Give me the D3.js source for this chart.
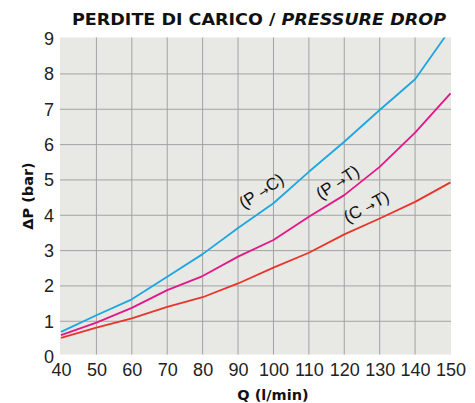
<!DOCTYPE html>
<html>
<head>
<meta charset="utf-8">
<script src="https://cdn.jsdelivr.net/npm/d3@7"></script>
<style>
  body { margin: 0; background: #fff; }
  svg { display: block; }
</style>
</head>
<body>
<div id="chart"></div>
<script>
// Flow values (l/min)
const flow = [40, 50, 60, 70, 80, 90, 100, 110, 120, 130, 140, 150];

// Pressure drop (bar) per path
const pToC = [0.70, 1.17, 1.62, 2.26, 2.90, 3.64, 4.34, 5.23, 6.08, 6.98, 7.85, 9.27];
const pToT = [0.61, 0.96, 1.38, 1.88, 2.28, 2.83, 3.30, 3.96, 4.57, 5.37, 6.34, 7.45];
const cToT = [0.53, 0.82, 1.08, 1.41, 1.68, 2.07, 2.52, 2.94, 3.46, 3.91, 4.38, 4.93];

const yTicks = [0, 1, 2, 3, 4, 5, 6, 7, 8, 9];
const xTicks = flow;

const seriesFrom = ["P", "P", "C"];
const seriesTo = ["C", "T", "T"];
const seriesColors = ["#1ca6e2", "#e3168a", "#e8352b"];

const width = 475;
const height = 403;

const x = d3.scaleLinear().domain([40, 150]).range([61, 450.5]);
const y = d3.scaleLinear().domain([0, 9]).range([356.6, 38.6]);

const plotTop = 37.5, plotBottom = 354.5, plotLeft = 60, plotRight = 451;

const svg = d3.select("#chart").append("svg")
    .attr("width", width)
    .attr("height", height)
    .attr("viewBox", [0, 0, width, height]);

svg.append("defs").append("clipPath")
    .attr("id", "plot-clip")
  .append("rect")
    .attr("x", plotLeft)
    .attr("y", plotTop)
    .attr("width", plotRight - plotLeft)
    .attr("height", plotBottom - plotTop);

// background
svg.append("rect")
    .attr("x", plotLeft)
    .attr("y", plotTop)
    .attr("width", plotRight - plotLeft)
    .attr("height", plotBottom - plotTop)
    .attr("fill", "#e8e8e4");

// grid
const grid = svg.append("g")
    .attr("stroke", "#a3a3a3")
    .attr("stroke-width", 1);

grid.selectAll("line.v")
  .data(xTicks.slice(1, -1))
  .join("line")
    .attr("class", "v")
    .attr("x1", d => x(d))
    .attr("x2", d => x(d))
    .attr("y1", plotTop)
    .attr("y2", plotBottom);

grid.selectAll("line.h")
  .data(yTicks.slice(1, -1))
  .join("line")
    .attr("class", "h")
    .attr("x1", plotLeft)
    .attr("x2", plotRight)
    .attr("y1", d => y(d))
    .attr("y2", d => y(d));

// axes (text only)
svg.append("g")
    .attr("transform", `translate(0,${plotBottom})`)
    .call(d3.axisBottom(x).tickValues(xTicks).tickSize(0).tickPadding(9))
    .call(g => g.select(".domain").remove())
    .call(g => g.selectAll("text")
        .attr("font-family", "'Liberation Sans', Arial, sans-serif")
        .attr("font-size", 18)
        .attr("fill", "#222"));

svg.append("g")
    .attr("transform", `translate(54,0)`)
    .call(d3.axisLeft(y).tickValues(yTicks).tickSize(0).tickPadding(0))
    .call(g => g.select(".domain").remove())
    .call(g => g.selectAll("text")
        .attr("font-family", "'Liberation Sans', Arial, sans-serif")
        .attr("font-size", 18)
        .attr("fill", "#222"));

// lines
const line = d3.line()
    .x((d, i) => x(flow[i]))
    .y(d => y(d));

const allSeries = [pToC, pToT, cToT];

svg.append("g")
    .attr("clip-path", "url(#plot-clip)")
  .selectAll("path")
  .data(allSeries)
  .join("path")
    .attr("fill", "none")
    .attr("stroke", (d, i) => seriesColors[i])
    .attr("stroke-width", 1.8)
    .attr("stroke-linejoin", "round")
    .attr("d", line);

// series labels
const labelPos = [
  { q: 97.5, v: 4.55, angle: -33 },
  { q: 119, v: 4.8, angle: -33 },
  { q: 127, v: 4.1, angle: -28 }
];

const labels = svg.append("g")
    .attr("font-family", "'Liberation Sans Narrow', 'Liberation Sans', Arial, sans-serif")
    .attr("font-size", 17)
    .attr("fill", "#111")
  .selectAll("text")
  .data(seriesFrom)
  .join("text")
    .attr("text-anchor", "middle")
    .attr("transform", (d, i) => `translate(${x(labelPos[i].q)},${y(labelPos[i].v)}) rotate(${labelPos[i].angle})`);

labels.append("tspan").text(d => `(${d} `);
labels.append("tspan")
    .attr("font-family", "'DejaVu Sans', sans-serif")
    .attr("font-size", 12)
    .text("\u2192");
labels.append("tspan").text((d, i) => `${seriesTo[i]})`);

// title
const title = svg.append("text")
    .attr("x", 72)
    .attr("y", 25)
    .attr("textLength", 374)
    .attr("lengthAdjust", "spacingAndGlyphs")
    .attr("font-family", "'DejaVu Sans', sans-serif")
    .attr("font-weight", "bold")
    .attr("font-size", 16.5)
    .attr("fill", "#111");
title.append("tspan").text("PERDITE DI CARICO / ");
title.append("tspan").attr("font-style", "italic").text("PRESSURE DROP");

// axis titles
svg.append("text")
    .attr("x", 273)
    .attr("y", 400)
    .attr("text-anchor", "middle")
    .attr("font-family", "'DejaVu Sans', sans-serif")
    .attr("font-weight", "bold")
    .attr("font-size", 14.5)
    .attr("fill", "#111")
    .text("Q (l/min)");

svg.append("text")
    .attr("transform", "translate(33,196) rotate(-90)")
    .attr("text-anchor", "middle")
    .attr("font-family", "'DejaVu Sans', sans-serif")
    .attr("font-weight", "bold")
    .attr("font-size", 14.5)
    .attr("fill", "#111")
    .text("\u0394P (bar)");
</script>
</body>
</html>
